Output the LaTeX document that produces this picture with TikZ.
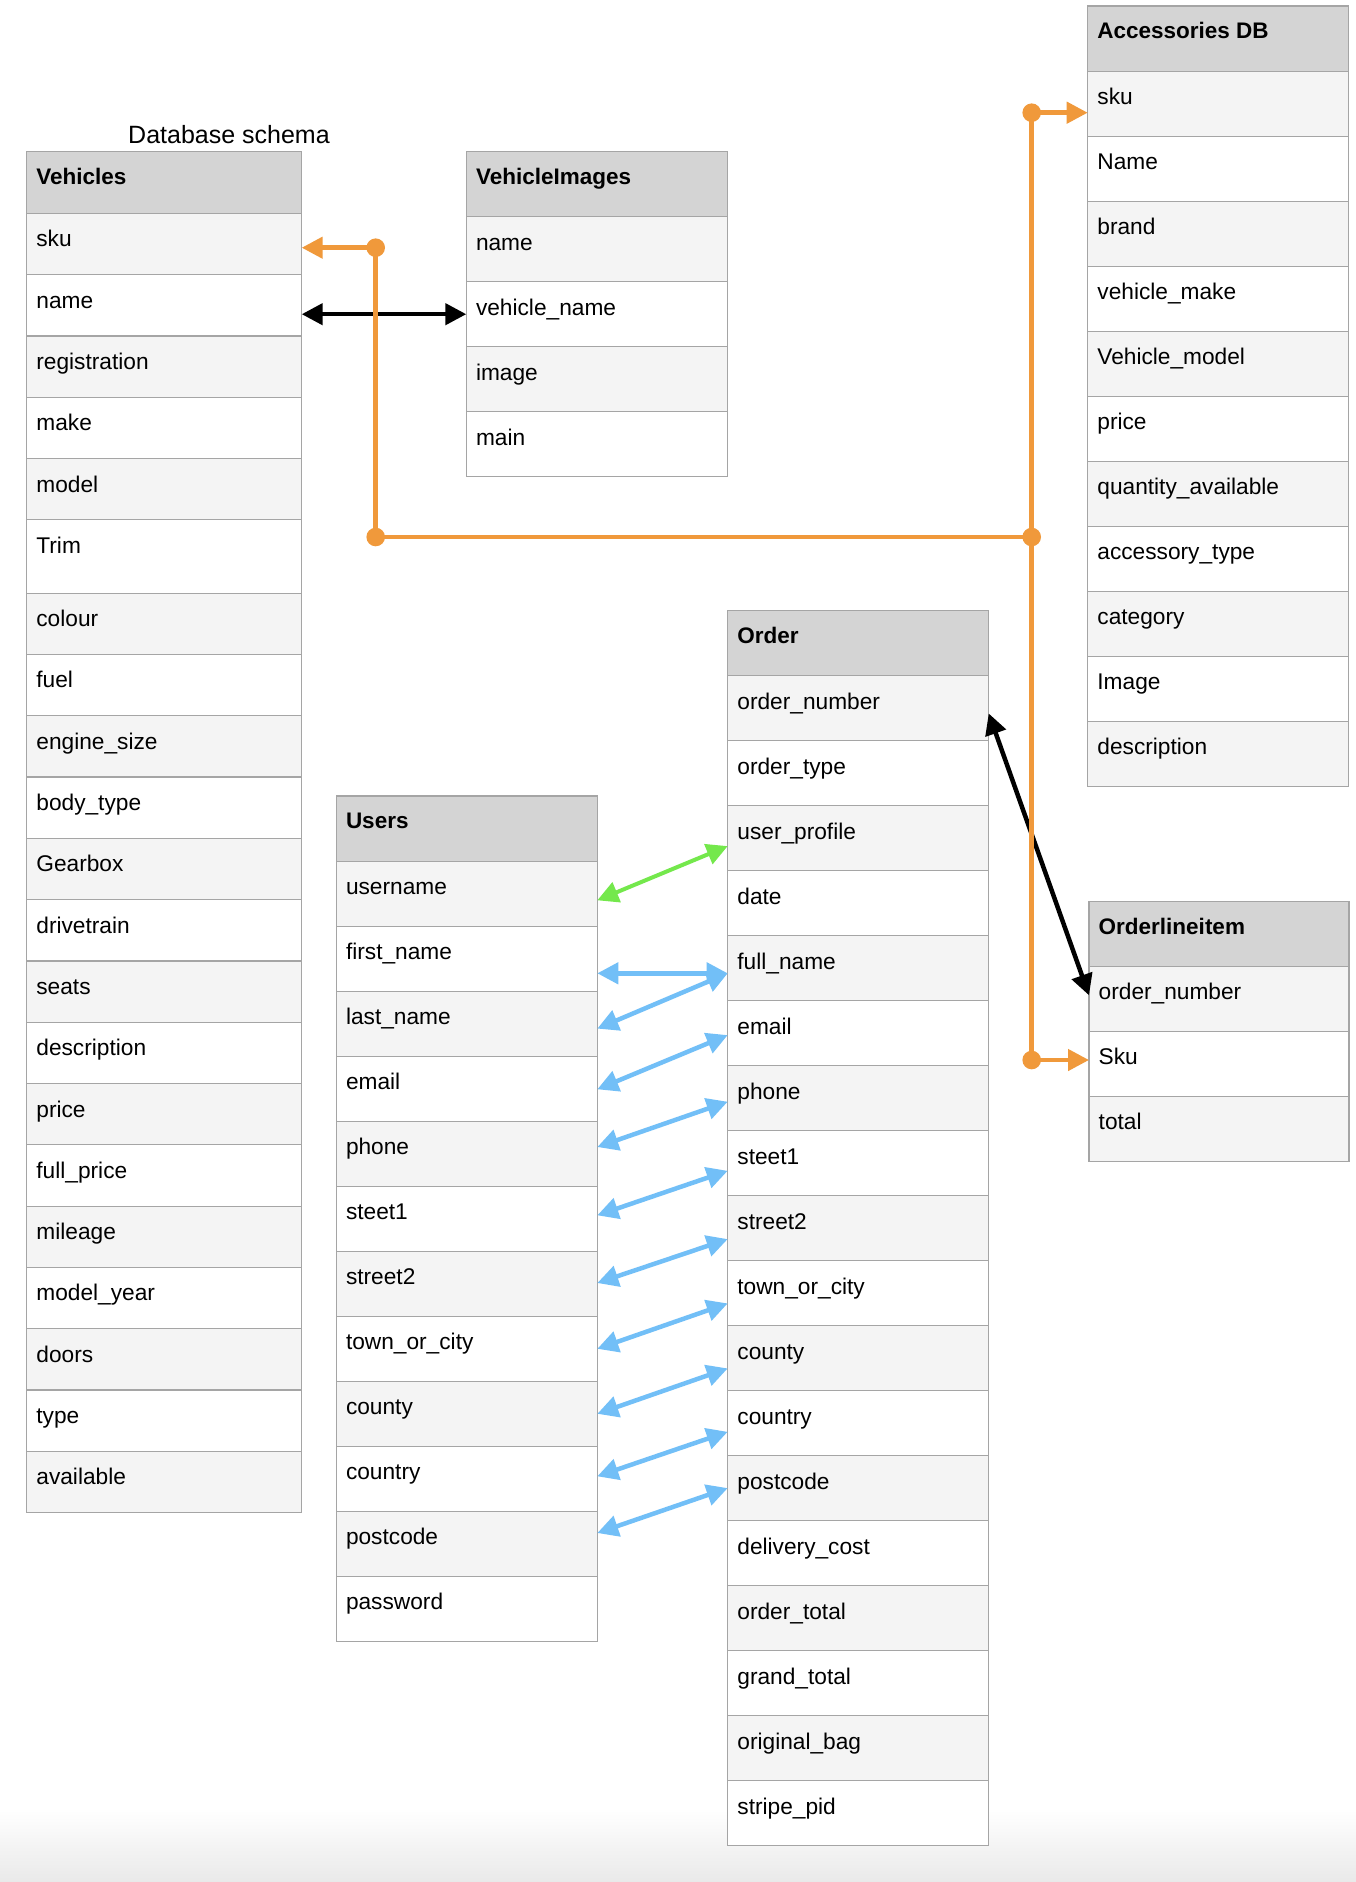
\documentclass[tikz,border=0pt]{standalone}
\usepackage{fontspec}
\setmainfont{Liberation Sans}
\usetikzlibrary{arrows.meta,calc}

\definecolor{hdrgray}{HTML}{D4D4D4}
\definecolor{rowgray}{HTML}{F4F4F4}
\definecolor{bordergray}{HTML}{A5A5A5}
\definecolor{orangec}{HTML}{F0993B}
\definecolor{bluec}{HTML}{72BFF7}
\definecolor{greenc}{HTML}{74E84C}
\definecolor{fadegray}{HTML}{E9E9E9}

\tikzset{
  cell/.style={draw=bordergray, line width=1.2pt, inner sep=0pt, outer sep=0pt, anchor=north west, rectangle},
  celltext/.style={anchor=base west, inner sep=0pt, font=\fontsize{22.7pt}{27pt}\selectfont},
  hdrtext/.style={anchor=base west, inner sep=0pt, font=\fontsize{22.5pt}{27pt}\selectfont\bfseries},
  tip/.tip={Triangle[length=21pt,width=21pt]},
  blk/.style={line width=4.5pt, draw=black, {tip}-{tip}},
  bluelink/.style={line width=4.5pt, draw=bluec, {tip}-{tip}},
  greenlink/.style={line width=4pt, draw=greenc, {tip}-{tip}},
  orngline/.style={line width=4.5pt, draw=orangec},
  orngarrow/.style={line width=4.5pt, draw=orangec, -{tip}},
  dot/.style={fill=orangec}
}

\newcommand\dbheader[6]{%
  \node[cell, fill=hdrgray, minimum width=#4pt, minimum height=#5pt] (#1-0) at (#2,#3) {};
  \node[hdrtext] (#1-0-t) at ([xshift=9.5pt,yshift=-32.5pt]#1-0.north west) {#6};
}
\newcommand\dbrows[5]{%
  \xdef\cury{#3}%
  \foreach \txt/\hh [count=\i] in {#5}{%
    \ifodd\i \def\fc{rowgray}\else\def\fc{white}\fi
    \node[cell, fill=\fc, minimum width=#4pt, minimum height=\hh pt] (#1-\i) at (#2,\cury) {};
    \node[celltext] (#1-\i-t) at ([xshift=9.5pt,yshift=-33.5pt]#1-\i.north west) {\txt};
    \pgfmathsetmacro\ny{\cury+\hh}\xdef\cury{\ny}%
  }%
}

\begin{document}
\begin{tikzpicture}[x=1pt,y=-1pt]
\useasboundingbox (0,0) rectangle (1356,1882);
\fill[white] (0,0) rectangle (1356,1882);
\shade[top color=white, bottom color=fadegray] (0,1810) rectangle (1356,1882);

% title
\node[anchor=base west, inner sep=0pt, font=\fontsize{25pt}{29pt}\selectfont] (title) at (128,143.3) {Database schema};

% Vehicles
\dbheader{v}{26.7}{151.7}{275}{61.6}{Vehicles}
\dbrows{v}{26.7}{213.3}{275}{sku/61.3, name/61.3, registration/61.3, make/61.3, model/61.3, Trim/73.3, colour/61.3, fuel/61.3, engine\_size/61.3, body\_type/61.3, Gearbox/61.3, drivetrain/61.3, seats/61.3, description/61.3, price/61.3, full\_price/61.3, mileage/61.3, model\_year/61.3, doors/61.3, type/61.3, available/61.3}

% VehicleImages
\dbheader{vi}{466.3}{151.7}{261}{65}{VehicleImages}
\dbrows{vi}{466.3}{216.7}{261}{name/65, vehicle\_name/65, image/65, main/65}

% Accessories DB
\dbheader{acc}{1087.7}{6}{260.6}{65.3}{Accessories DB}
\dbrows{acc}{1087.7}{71.3}{260.6}{sku/65, Name/65, brand/65, vehicle\_make/65, Vehicle\_model/65, price/65, quantity\_available/65, accessory\_type/65, category/65, Image/65, description/65}

% Order
\dbheader{o}{727.7}{610.8}{261}{64.8}{Order}
\dbrows{o}{727.7}{675.6}{261}{order\_number/65, order\_type/65, user\_profile/65, date/65, full\_name/65, email/65, phone/65, steet1/65, street2/65, town\_or\_city/65, county/65, country/65, postcode/65, delivery\_cost/65, order\_total/65, grand\_total/65, original\_bag/65, stripe\_pid/65}

% Users
\dbheader{u}{336.3}{796}{261}{65.3}{Users}
\dbrows{u}{336.3}{861.3}{261}{username/65, first\_name/65, last\_name/65, email/65, phone/65, steet1/65, street2/65, town\_or\_city/65, county/65, country/65, postcode/65, password/65}

% Orderlineitem
\dbheader{ol}{1089}{901.5}{260}{64.8}{Orderlineitem}
\dbrows{ol}{1089}{966.3}{260}{order\_number/65, Sku/65, total/65}

% black links
\draw[blk] (v-2.east |- vi-2.west) -- (vi-2.west);
\draw[blk] ([yshift=-5.3pt]o-1.east) -- ([yshift=3.5pt]ol-1.west);

% green / blue links
\draw[greenlink] ([yshift=-6.5pt]u-1.east) -- ([yshift=-8pt]o-3.west);
\draw[bluelink] ([yshift=-14.5pt]u-2.east) -- ([yshift=-5.2pt]o-5.west);
\draw[bluelink] ([yshift=-4.8pt]u-3.east) -- ([yshift=-5.2pt]o-5.west);
\draw[bluelink] ([yshift=-0.5pt]u-4.east) -- ([yshift=-2pt]o-6.west);
\draw[bluelink] ([yshift=6.8pt]u-5.east) -- ([yshift=-3.6pt]o-7.west);
\draw[bluelink] ([yshift=3.5pt]u-6.east) -- ([yshift=-7.7pt]o-8.west);
\draw[bluelink] ([yshift=0.8pt]u-7.east) -- ([yshift=-11pt]o-9.west);
\draw[bluelink] (u-8.east) -- ([yshift=-10.3pt]o-10.west);
\draw[bluelink] (u-9.east) -- ([yshift=-10.3pt]o-11.west);
\draw[bluelink] ([yshift=2.5pt]u-10.east) -- ([yshift=-8.7pt]o-12.west);
\draw[bluelink] ([yshift=10.8pt]u-11.east) -- (o-13.west);

% orange links
\coordinate (j1) at (375.7,247.7);
\coordinate (j2) at (375.7,537);
\coordinate (j3) at (1031.7,537);
\coordinate (j4) at (1031.7,112.7);
\coordinate (j5) at (1031.7,1060);
\draw[orngline] (j1) -- (j2) -- (j3);
\draw[orngline] (j4) -- (j5);
\draw[orngarrow] (j1) -- (v-1.east |- j1);
\draw[orngarrow] (j4) -- (acc-1.west |- j4);
\draw[orngarrow] (j5) -- (ol-2.west |- j5);
\foreach \j in {j1,j2,j3,j4,j5} { \fill[dot] (\j) circle (9.3pt); }
\end{tikzpicture}
\end{document}
